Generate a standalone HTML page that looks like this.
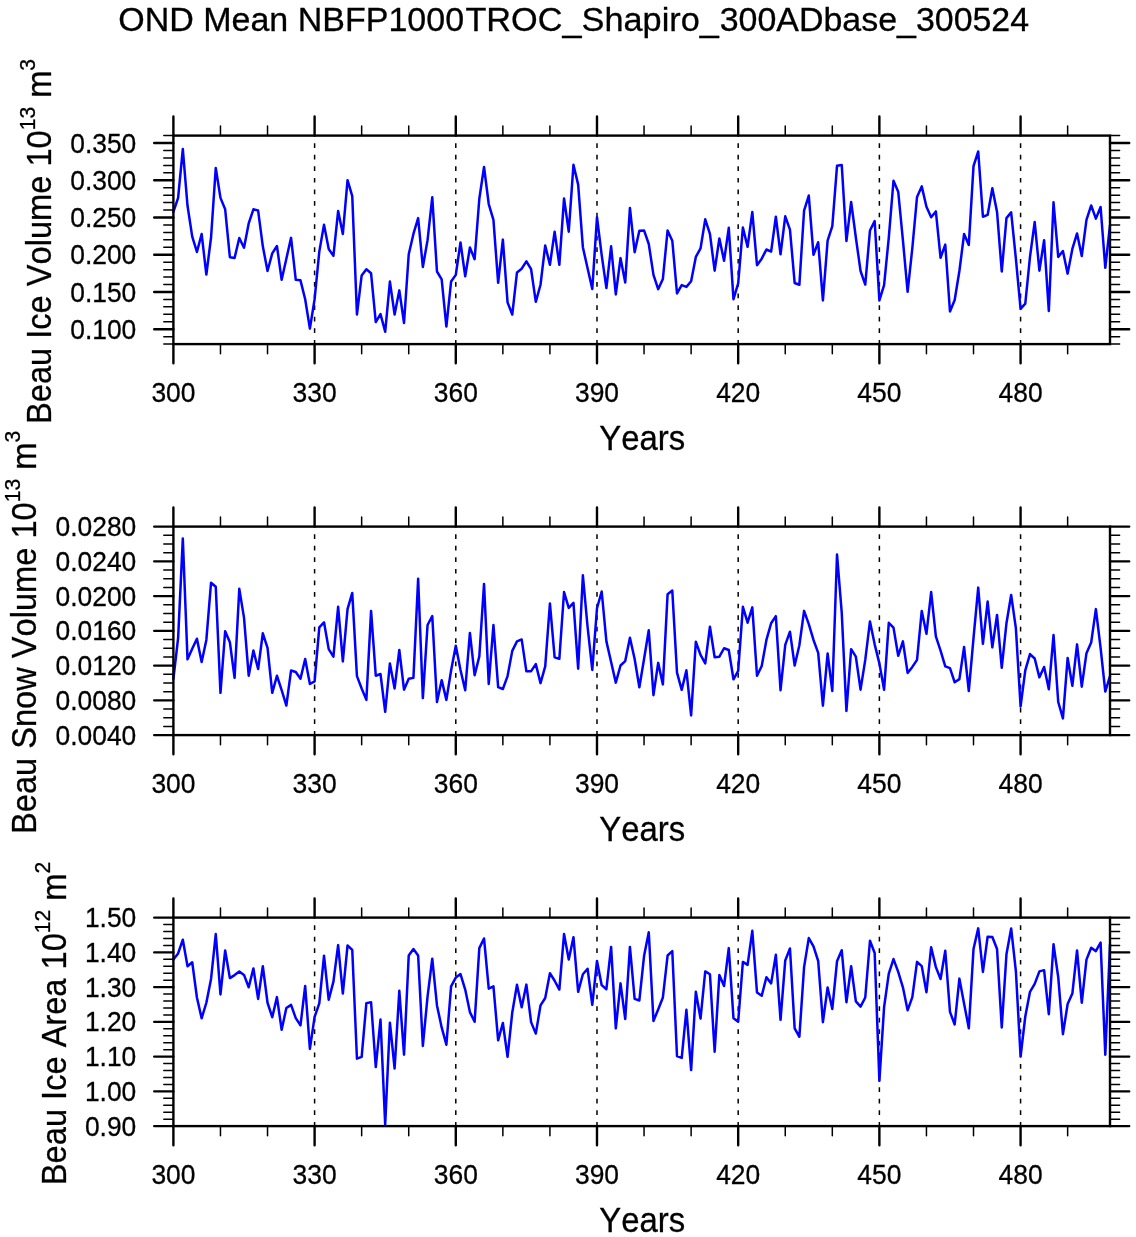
<!DOCTYPE html>
<html><head><meta charset="utf-8"><title>OND Mean NBFP1000TROC_Shapiro_300ADbase_300524</title>
<style>
html,body{margin:0;padding:0;background:#fff;}
body{width:1136px;height:1237px;overflow:hidden;}
svg{display:block;will-change:transform;}
text{font-family:"Liberation Sans", Arial, Helvetica, sans-serif;fill:#000;font-kerning:none;stroke:#000;stroke-width:0.3px;}
.tk{font-size:28.4px;}
.lb{font-size:34.8px;}
.tt{font-size:33.6px;}
.ax{stroke:#000;stroke-width:2.4;fill:none;stroke-linecap:round;}
.mn{stroke:#000;stroke-width:1.5;fill:none;stroke-linecap:round;}
.ds{stroke:#000;stroke-width:1.5;fill:none;stroke-dasharray:4.7 6.87;}
.dt{stroke:#0000ff;stroke-width:2.5;fill:none;stroke-linejoin:round;stroke-linecap:round;}
</style></head><body>
<svg width="1136" height="1237" viewBox="0 0 1136 1237">
<rect x="0" y="0" width="1136" height="1237" fill="#ffffff"/>
<text class="tt" y="30.5"><tspan x="118.2" textLength="345.87" lengthAdjust="spacingAndGlyphs">OND Mean NBFP1000</tspan><tspan x="465.4" textLength="253.41" lengthAdjust="spacingAndGlyphs">TROC_Shapiro_</tspan><tspan x="719.7" textLength="309.44" lengthAdjust="spacingAndGlyphs">300ADbase_300524</tspan></text>
<g>
<line class="ds" x1="314.60" y1="344.60" x2="314.60" y2="135.60"/>
<line class="ds" x1="455.79" y1="344.60" x2="455.79" y2="135.60"/>
<line class="ds" x1="596.99" y1="344.60" x2="596.99" y2="135.60"/>
<line class="ds" x1="738.18" y1="344.60" x2="738.18" y2="135.60"/>
<line class="ds" x1="879.38" y1="344.60" x2="879.38" y2="135.60"/>
<line class="ds" x1="1020.58" y1="344.60" x2="1020.58" y2="135.60"/>
<polyline class="dt" points="173.40,211.95 178.11,197.85 182.81,149.03 187.52,205.78 192.23,236.63 196.93,251.96 201.64,233.98 206.35,274.52 211.05,237.51 215.76,167.89 220.47,197.85 225.17,209.31 229.88,257.25 234.58,257.95 239.29,238.04 244.00,247.73 248.70,223.41 253.41,209.31 258.12,210.54 262.82,246.32 267.53,270.99 272.24,253.37 276.94,245.97 281.65,279.81 286.36,258.66 291.06,237.86 295.77,279.81 300.48,280.33 305.18,299.19 309.89,328.63 314.60,299.19 319.30,251.61 324.01,224.64 328.72,248.96 333.42,255.84 338.13,211.07 342.84,233.98 347.54,180.23 352.25,196.09 356.95,314.53 361.66,275.40 366.37,269.23 371.07,273.29 375.78,322.10 380.49,314.17 385.19,331.80 389.90,281.57 394.61,314.53 399.31,290.38 404.02,322.99 408.73,254.25 413.43,233.98 418.14,218.12 422.85,266.94 427.55,240.15 432.26,197.32 436.97,271.52 441.67,279.28 446.38,326.51 451.09,281.57 455.79,274.87 460.50,242.44 465.21,276.28 469.91,247.55 474.62,259.19 479.32,198.73 484.03,167.01 488.74,204.02 493.44,219.88 498.15,282.80 502.86,239.62 507.56,302.37 512.27,314.53 516.98,272.40 521.68,268.70 526.39,261.30 531.10,269.23 535.80,301.84 540.51,284.74 545.22,245.44 549.92,264.83 554.63,231.69 559.34,264.83 564.04,198.38 568.75,231.69 573.46,164.72 578.16,184.64 582.87,247.20 587.57,268.35 592.28,288.97 596.99,217.24 601.69,255.13 606.40,288.09 611.11,246.32 615.81,294.43 620.52,258.13 625.23,282.45 629.93,207.90 634.64,252.14 639.35,230.81 644.05,230.46 648.76,244.03 653.47,274.87 658.17,289.15 662.88,278.92 667.59,230.46 672.29,240.68 677.00,293.38 681.71,285.09 686.41,286.86 691.12,281.22 695.83,256.89 700.53,248.43 705.24,219.35 709.94,233.98 714.65,270.64 719.36,238.39 724.06,260.77 728.77,227.81 733.48,299.19 738.18,283.33 742.89,227.46 747.60,246.85 752.30,211.95 757.01,265.18 761.72,258.66 766.42,249.49 771.13,251.61 775.84,216.71 780.54,254.25 785.25,216.36 789.96,229.58 794.66,282.98 799.37,284.74 804.08,210.54 808.78,195.56 813.49,254.78 818.19,242.27 822.90,300.43 827.61,240.68 832.31,226.05 837.02,165.78 841.73,164.90 846.43,241.03 851.14,201.91 855.85,237.51 860.55,270.99 865.26,284.56 869.97,230.46 874.67,221.12 879.38,300.43 884.09,285.09 888.79,237.51 893.50,180.76 898.21,191.68 902.91,240.15 907.62,291.79 912.33,248.08 917.03,196.97 921.74,186.40 926.45,206.67 931.15,217.24 935.86,211.42 940.56,257.78 945.27,244.56 949.98,311.53 954.68,300.07 959.39,270.99 964.10,233.98 968.80,244.91 973.51,166.13 978.22,151.50 982.92,216.71 987.63,214.95 992.34,188.16 997.04,211.95 1001.75,271.52 1006.46,218.12 1011.16,212.31 1015.87,258.66 1020.58,308.89 1025.28,303.60 1029.99,256.89 1034.70,222.00 1039.40,270.64 1044.11,240.15 1048.82,311.00 1053.52,202.26 1058.23,256.89 1062.93,251.08 1067.64,273.64 1072.35,248.96 1077.05,233.45 1081.76,256.01 1086.47,219.88 1091.17,205.43 1095.88,218.65 1100.59,207.02 1105.29,267.82 1110.00,225.17"/>
<rect class="ax" x="173.40" y="135.60" width="936.60" height="208.50"/>
<path class="ax" d="M173.40 135.60V116.40M173.40 344.10V363.30"/>
<text class="tk" transform="translate(173.40,401.70) scale(0.93,1)" text-anchor="middle">300</text>
<path class="mn" d="M220.47 135.60V126.00M220.47 344.10V353.70"/>
<path class="mn" d="M267.53 135.60V126.00M267.53 344.10V353.70"/>
<path class="ax" d="M314.60 135.60V116.40M314.60 344.10V363.30"/>
<text class="tk" transform="translate(314.60,401.70) scale(0.93,1)" text-anchor="middle">330</text>
<path class="mn" d="M361.66 135.60V126.00M361.66 344.10V353.70"/>
<path class="mn" d="M408.73 135.60V126.00M408.73 344.10V353.70"/>
<path class="ax" d="M455.79 135.60V116.40M455.79 344.10V363.30"/>
<text class="tk" transform="translate(455.79,401.70) scale(0.93,1)" text-anchor="middle">360</text>
<path class="mn" d="M502.86 135.60V126.00M502.86 344.10V353.70"/>
<path class="mn" d="M549.92 135.60V126.00M549.92 344.10V353.70"/>
<path class="ax" d="M596.99 135.60V116.40M596.99 344.10V363.30"/>
<text class="tk" transform="translate(596.99,401.70) scale(0.93,1)" text-anchor="middle">390</text>
<path class="mn" d="M644.05 135.60V126.00M644.05 344.10V353.70"/>
<path class="mn" d="M691.12 135.60V126.00M691.12 344.10V353.70"/>
<path class="ax" d="M738.18 135.60V116.40M738.18 344.10V363.30"/>
<text class="tk" transform="translate(738.18,401.70) scale(0.93,1)" text-anchor="middle">420</text>
<path class="mn" d="M785.25 135.60V126.00M785.25 344.10V353.70"/>
<path class="mn" d="M832.31 135.60V126.00M832.31 344.10V353.70"/>
<path class="ax" d="M879.38 135.60V116.40M879.38 344.10V363.30"/>
<text class="tk" transform="translate(879.38,401.70) scale(0.93,1)" text-anchor="middle">450</text>
<path class="mn" d="M926.45 135.60V126.00M926.45 344.10V353.70"/>
<path class="mn" d="M973.51 135.60V126.00M973.51 344.10V353.70"/>
<path class="ax" d="M1020.58 135.60V116.40M1020.58 344.10V363.30"/>
<text class="tk" transform="translate(1020.58,401.70) scale(0.93,1)" text-anchor="middle">480</text>
<path class="mn" d="M1067.64 135.60V126.00M1067.64 344.10V353.70"/>
<path class="mn" d="M173.40 344.10H163.80M1110.00 344.10H1119.60"/>
<path class="mn" d="M173.40 336.65H163.80M1110.00 336.65H1119.60"/>
<path class="ax" d="M173.40 329.21H154.20M1110.00 329.21H1129.20"/>
<text class="tk" transform="translate(136.30,338.81) scale(0.93,1)" text-anchor="end">0.100</text>
<path class="mn" d="M173.40 321.76H163.80M1110.00 321.76H1119.60"/>
<path class="mn" d="M173.40 314.31H163.80M1110.00 314.31H1119.60"/>
<path class="mn" d="M173.40 306.87H163.80M1110.00 306.87H1119.60"/>
<path class="mn" d="M173.40 299.42H163.80M1110.00 299.42H1119.60"/>
<path class="ax" d="M173.40 291.98H154.20M1110.00 291.98H1129.20"/>
<text class="tk" transform="translate(136.30,301.58) scale(0.93,1)" text-anchor="end">0.150</text>
<path class="mn" d="M173.40 284.53H163.80M1110.00 284.53H1119.60"/>
<path class="mn" d="M173.40 277.08H163.80M1110.00 277.08H1119.60"/>
<path class="mn" d="M173.40 269.64H163.80M1110.00 269.64H1119.60"/>
<path class="mn" d="M173.40 262.19H163.80M1110.00 262.19H1119.60"/>
<path class="ax" d="M173.40 254.74H154.20M1110.00 254.74H1129.20"/>
<text class="tk" transform="translate(136.30,264.34) scale(0.93,1)" text-anchor="end">0.200</text>
<path class="mn" d="M173.40 247.30H163.80M1110.00 247.30H1119.60"/>
<path class="mn" d="M173.40 239.85H163.80M1110.00 239.85H1119.60"/>
<path class="mn" d="M173.40 232.40H163.80M1110.00 232.40H1119.60"/>
<path class="mn" d="M173.40 224.96H163.80M1110.00 224.96H1119.60"/>
<path class="ax" d="M173.40 217.51H154.20M1110.00 217.51H1129.20"/>
<text class="tk" transform="translate(136.30,227.11) scale(0.93,1)" text-anchor="end">0.250</text>
<path class="mn" d="M173.40 210.06H163.80M1110.00 210.06H1119.60"/>
<path class="mn" d="M173.40 202.62H163.80M1110.00 202.62H1119.60"/>
<path class="mn" d="M173.40 195.17H163.80M1110.00 195.17H1119.60"/>
<path class="mn" d="M173.40 187.73H163.80M1110.00 187.73H1119.60"/>
<path class="ax" d="M173.40 180.28H154.20M1110.00 180.28H1129.20"/>
<text class="tk" transform="translate(136.30,189.88) scale(0.93,1)" text-anchor="end">0.300</text>
<path class="mn" d="M173.40 172.83H163.80M1110.00 172.83H1119.60"/>
<path class="mn" d="M173.40 165.39H163.80M1110.00 165.39H1119.60"/>
<path class="mn" d="M173.40 157.94H163.80M1110.00 157.94H1119.60"/>
<path class="mn" d="M173.40 150.49H163.80M1110.00 150.49H1119.60"/>
<path class="ax" d="M173.40 143.05H154.20M1110.00 143.05H1129.20"/>
<text class="tk" transform="translate(136.30,152.65) scale(0.93,1)" text-anchor="end">0.350</text>
<path class="mn" d="M173.40 135.60H163.80M1110.00 135.60H1119.60"/>
<text class="lb" transform="translate(642.2,450.00) scale(0.945,1)" text-anchor="middle">Years</text>
<text class="lb" transform="translate(50.8,241.45) rotate(-90) scale(0.937,1)" text-anchor="middle">Beau Ice Volume 10<tspan font-size="22.5" dy="-15.6">13</tspan><tspan dy="15.6"> m</tspan><tspan font-size="22.5" dy="-15.6">3</tspan></text>
</g>
<g>
<line class="ds" x1="314.60" y1="735.60" x2="314.60" y2="526.60"/>
<line class="ds" x1="455.79" y1="735.60" x2="455.79" y2="526.60"/>
<line class="ds" x1="596.99" y1="735.60" x2="596.99" y2="526.60"/>
<line class="ds" x1="738.18" y1="735.60" x2="738.18" y2="526.60"/>
<line class="ds" x1="879.38" y1="735.60" x2="879.38" y2="526.60"/>
<line class="ds" x1="1020.58" y1="735.60" x2="1020.58" y2="526.60"/>
<polyline class="dt" points="173.40,678.74 178.11,638.20 182.81,538.62 187.52,659.35 192.23,648.78 196.93,638.73 201.64,661.99 206.35,639.96 211.05,582.68 215.76,586.74 220.47,692.84 225.17,631.15 229.88,642.25 234.58,677.86 239.29,588.85 244.00,617.58 248.70,675.74 253.41,650.54 258.12,669.04 262.82,633.27 267.53,647.89 272.24,692.84 276.94,675.74 281.65,690.19 286.36,705.53 291.06,670.45 295.77,672.04 300.48,678.74 305.18,659.00 309.89,684.02 314.60,681.38 319.30,627.27 324.01,622.34 328.72,649.13 333.42,656.71 338.13,606.83 342.84,661.47 347.54,609.12 352.25,592.91 356.95,676.09 361.66,688.43 366.37,699.89 371.07,610.88 375.78,675.74 380.49,673.98 385.19,711.87 389.90,663.40 394.61,688.43 399.31,650.01 404.02,689.66 408.73,678.74 413.43,677.86 418.14,578.81 422.85,698.12 427.55,624.98 432.26,616.17 436.97,702.00 441.67,680.15 446.38,699.89 451.09,670.45 455.79,645.78 460.50,669.92 465.21,690.19 469.91,632.91 474.62,675.21 479.32,656.35 484.03,583.92 488.74,684.02 493.44,624.98 498.15,687.20 502.86,688.96 507.56,676.09 512.27,650.89 516.98,641.37 521.68,639.43 526.39,671.33 531.10,671.16 535.80,664.11 540.51,683.14 545.22,666.40 549.92,603.48 554.63,657.24 559.34,658.82 564.04,592.03 568.75,607.89 573.46,602.95 578.16,668.69 582.87,575.28 587.57,626.75 592.28,669.92 596.99,608.24 601.69,591.50 606.40,641.37 611.11,661.99 615.81,682.61 620.52,665.52 625.23,661.11 629.93,637.67 634.64,659.00 639.35,687.20 644.05,659.00 648.76,630.27 653.47,695.13 658.17,662.88 662.88,684.38 667.59,594.14 672.29,590.62 677.00,672.57 681.71,689.84 686.41,670.28 691.12,715.40 695.83,641.73 700.53,654.94 705.24,663.40 709.94,626.75 714.65,657.24 719.36,656.71 724.06,648.25 728.77,650.01 733.48,679.27 738.18,670.81 742.89,606.83 747.60,622.69 752.30,607.36 757.01,675.74 761.72,666.05 766.42,639.96 771.13,623.22 775.84,616.17 780.54,690.19 785.25,644.90 789.96,631.68 794.66,665.52 799.37,645.25 804.08,610.88 808.78,624.10 813.49,639.96 818.19,652.83 822.90,705.70 827.61,653.53 832.31,691.07 837.02,554.49 841.73,612.65 846.43,710.99 851.14,649.13 855.85,656.71 860.55,689.66 865.26,659.88 869.97,621.46 874.67,644.37 879.38,663.40 884.09,689.84 888.79,622.87 893.50,627.63 898.21,655.83 902.91,641.37 907.62,672.92 912.33,666.93 917.03,659.88 921.74,610.88 926.45,633.80 931.15,592.03 935.86,636.44 940.56,650.54 945.27,666.40 949.98,668.16 954.68,682.26 959.39,679.09 964.10,647.01 968.80,691.07 973.51,638.20 978.22,587.62 982.92,643.84 987.63,601.54 992.34,647.37 997.04,614.94 1001.75,667.81 1006.46,623.22 1011.16,595.02 1015.87,628.16 1020.58,706.41 1025.28,670.45 1029.99,654.06 1034.70,658.47 1039.40,677.33 1044.11,666.93 1048.82,689.31 1053.52,635.03 1058.23,702.00 1062.93,718.39 1067.64,657.94 1072.35,685.79 1077.05,644.37 1081.76,686.67 1086.47,653.18 1091.17,642.61 1095.88,609.12 1100.59,647.89 1105.29,691.60 1110.00,676.09"/>
<rect class="ax" x="173.40" y="526.60" width="936.60" height="208.50"/>
<path class="ax" d="M173.40 526.60V507.40M173.40 735.10V754.30"/>
<text class="tk" transform="translate(173.40,792.70) scale(0.93,1)" text-anchor="middle">300</text>
<path class="mn" d="M220.47 526.60V517.00M220.47 735.10V744.70"/>
<path class="mn" d="M267.53 526.60V517.00M267.53 735.10V744.70"/>
<path class="ax" d="M314.60 526.60V507.40M314.60 735.10V754.30"/>
<text class="tk" transform="translate(314.60,792.70) scale(0.93,1)" text-anchor="middle">330</text>
<path class="mn" d="M361.66 526.60V517.00M361.66 735.10V744.70"/>
<path class="mn" d="M408.73 526.60V517.00M408.73 735.10V744.70"/>
<path class="ax" d="M455.79 526.60V507.40M455.79 735.10V754.30"/>
<text class="tk" transform="translate(455.79,792.70) scale(0.93,1)" text-anchor="middle">360</text>
<path class="mn" d="M502.86 526.60V517.00M502.86 735.10V744.70"/>
<path class="mn" d="M549.92 526.60V517.00M549.92 735.10V744.70"/>
<path class="ax" d="M596.99 526.60V507.40M596.99 735.10V754.30"/>
<text class="tk" transform="translate(596.99,792.70) scale(0.93,1)" text-anchor="middle">390</text>
<path class="mn" d="M644.05 526.60V517.00M644.05 735.10V744.70"/>
<path class="mn" d="M691.12 526.60V517.00M691.12 735.10V744.70"/>
<path class="ax" d="M738.18 526.60V507.40M738.18 735.10V754.30"/>
<text class="tk" transform="translate(738.18,792.70) scale(0.93,1)" text-anchor="middle">420</text>
<path class="mn" d="M785.25 526.60V517.00M785.25 735.10V744.70"/>
<path class="mn" d="M832.31 526.60V517.00M832.31 735.10V744.70"/>
<path class="ax" d="M879.38 526.60V507.40M879.38 735.10V754.30"/>
<text class="tk" transform="translate(879.38,792.70) scale(0.93,1)" text-anchor="middle">450</text>
<path class="mn" d="M926.45 526.60V517.00M926.45 735.10V744.70"/>
<path class="mn" d="M973.51 526.60V517.00M973.51 735.10V744.70"/>
<path class="ax" d="M1020.58 526.60V507.40M1020.58 735.10V754.30"/>
<text class="tk" transform="translate(1020.58,792.70) scale(0.93,1)" text-anchor="middle">480</text>
<path class="mn" d="M1067.64 526.60V517.00M1067.64 735.10V744.70"/>
<path class="ax" d="M173.40 735.10H154.20M1110.00 735.10H1129.20"/>
<text class="tk" transform="translate(136.30,744.70) scale(0.93,1)" text-anchor="end">0.0040</text>
<path class="mn" d="M173.40 726.41H163.80M1110.00 726.41H1119.60"/>
<path class="mn" d="M173.40 717.73H163.80M1110.00 717.73H1119.60"/>
<path class="mn" d="M173.40 709.04H163.80M1110.00 709.04H1119.60"/>
<path class="ax" d="M173.40 700.35H154.20M1110.00 700.35H1129.20"/>
<text class="tk" transform="translate(136.30,709.95) scale(0.93,1)" text-anchor="end">0.0080</text>
<path class="mn" d="M173.40 691.66H163.80M1110.00 691.66H1119.60"/>
<path class="mn" d="M173.40 682.98H163.80M1110.00 682.98H1119.60"/>
<path class="mn" d="M173.40 674.29H163.80M1110.00 674.29H1119.60"/>
<path class="ax" d="M173.40 665.60H154.20M1110.00 665.60H1129.20"/>
<text class="tk" transform="translate(136.30,675.20) scale(0.93,1)" text-anchor="end">0.0120</text>
<path class="mn" d="M173.40 656.91H163.80M1110.00 656.91H1119.60"/>
<path class="mn" d="M173.40 648.23H163.80M1110.00 648.23H1119.60"/>
<path class="mn" d="M173.40 639.54H163.80M1110.00 639.54H1119.60"/>
<path class="ax" d="M173.40 630.85H154.20M1110.00 630.85H1129.20"/>
<text class="tk" transform="translate(136.30,640.45) scale(0.93,1)" text-anchor="end">0.0160</text>
<path class="mn" d="M173.40 622.16H163.80M1110.00 622.16H1119.60"/>
<path class="mn" d="M173.40 613.48H163.80M1110.00 613.48H1119.60"/>
<path class="mn" d="M173.40 604.79H163.80M1110.00 604.79H1119.60"/>
<path class="ax" d="M173.40 596.10H154.20M1110.00 596.10H1129.20"/>
<text class="tk" transform="translate(136.30,605.70) scale(0.93,1)" text-anchor="end">0.0200</text>
<path class="mn" d="M173.40 587.41H163.80M1110.00 587.41H1119.60"/>
<path class="mn" d="M173.40 578.73H163.80M1110.00 578.73H1119.60"/>
<path class="mn" d="M173.40 570.04H163.80M1110.00 570.04H1119.60"/>
<path class="ax" d="M173.40 561.35H154.20M1110.00 561.35H1129.20"/>
<text class="tk" transform="translate(136.30,570.95) scale(0.93,1)" text-anchor="end">0.0240</text>
<path class="mn" d="M173.40 552.66H163.80M1110.00 552.66H1119.60"/>
<path class="mn" d="M173.40 543.98H163.80M1110.00 543.98H1119.60"/>
<path class="mn" d="M173.40 535.29H163.80M1110.00 535.29H1119.60"/>
<path class="ax" d="M173.40 526.60H154.20M1110.00 526.60H1129.20"/>
<text class="tk" transform="translate(136.30,536.20) scale(0.93,1)" text-anchor="end">0.0280</text>
<text class="lb" transform="translate(642.2,841.00) scale(0.945,1)" text-anchor="middle">Years</text>
<text class="lb" transform="translate(35.9,632.45) rotate(-90) scale(0.937,1)" text-anchor="middle">Beau Snow Volume 10<tspan font-size="22.5" dy="-15.6">13</tspan><tspan dy="15.6"> m</tspan><tspan font-size="22.5" dy="-15.6">3</tspan></text>
</g>
<g>
<line class="ds" x1="314.60" y1="1126.60" x2="314.60" y2="917.60"/>
<line class="ds" x1="455.79" y1="1126.60" x2="455.79" y2="917.60"/>
<line class="ds" x1="596.99" y1="1126.60" x2="596.99" y2="917.60"/>
<line class="ds" x1="738.18" y1="1126.60" x2="738.18" y2="917.60"/>
<line class="ds" x1="879.38" y1="1126.60" x2="879.38" y2="917.60"/>
<line class="ds" x1="1020.58" y1="1126.60" x2="1020.58" y2="917.60"/>
<polyline class="dt" points="173.40,959.59 178.11,953.42 182.81,939.67 187.52,966.28 192.23,962.23 196.93,997.48 201.64,1018.27 206.35,1002.76 211.05,978.97 215.76,934.03 220.47,994.48 225.17,950.42 229.88,978.09 234.58,975.09 239.29,971.57 244.00,974.92 248.70,987.26 253.41,968.40 258.12,998.89 262.82,966.28 267.53,1002.76 272.24,1017.22 276.94,997.13 281.65,1029.73 286.36,1008.05 291.06,1004.88 295.77,1018.10 300.48,1025.32 305.18,986.02 309.89,1048.94 314.60,1016.86 319.30,1003.29 324.01,955.71 328.72,999.77 333.42,981.62 338.13,945.13 342.84,993.60 347.54,945.49 352.25,949.89 356.95,1058.63 361.66,1056.87 366.37,1003.12 371.07,1002.24 375.78,1067.09 380.49,1019.51 385.19,1124.37 389.90,1022.68 394.61,1068.50 399.31,990.78 404.02,1054.76 408.73,955.53 413.43,949.01 418.14,955.53 422.85,1045.94 427.55,996.60 432.26,958.70 436.97,1005.41 441.67,1027.44 446.38,1044.71 451.09,986.37 455.79,977.56 460.50,974.04 465.21,989.55 469.91,1012.11 474.62,1021.80 479.32,948.13 484.03,938.44 488.74,988.67 493.44,986.37 498.15,1040.30 502.86,1023.03 507.56,1056.87 512.27,1012.46 516.98,984.79 521.68,1007.17 526.39,984.61 531.10,1022.15 535.80,1033.61 540.51,1005.41 545.22,998.01 549.92,973.16 554.63,980.73 559.34,989.55 564.04,934.03 568.75,959.59 573.46,937.20 578.16,991.84 582.87,974.21 587.57,968.75 592.28,1004.88 596.99,961.00 601.69,985.14 606.40,989.19 611.11,946.90 615.81,1028.32 620.52,983.38 625.23,1018.98 629.93,946.90 634.64,998.89 639.35,1000.47 644.05,956.06 648.76,932.27 653.47,1020.92 658.17,1009.46 662.88,997.48 667.59,955.53 672.29,951.13 677.00,1055.99 681.71,1057.93 686.41,1009.81 691.12,1070.09 695.83,991.84 700.53,1018.63 705.24,971.39 709.94,974.21 714.65,1051.76 719.36,974.92 724.06,986.02 728.77,948.13 733.48,1018.27 738.18,1021.62 742.89,961.88 747.60,964.87 752.30,930.86 757.01,992.54 761.72,995.72 766.42,977.21 771.13,983.38 775.84,954.83 780.54,1019.86 785.25,960.47 789.96,948.48 794.66,1028.32 799.37,1036.78 804.08,967.16 808.78,938.08 813.49,946.37 818.19,961.00 822.90,1022.15 827.61,987.43 832.31,1008.93 837.02,961.35 841.73,950.24 846.43,1002.24 851.14,966.28 855.85,1001.35 860.55,1006.64 865.26,997.48 869.97,940.73 874.67,953.06 879.38,1080.84 884.09,1007.17 888.79,973.68 893.50,959.06 898.21,971.92 902.91,987.26 907.62,1010.34 912.33,997.13 917.03,961.88 921.74,966.11 926.45,992.19 931.15,947.25 935.86,967.16 940.56,978.97 945.27,950.77 949.98,1011.93 954.68,1024.44 959.39,978.62 964.10,1003.65 968.80,1028.32 973.51,949.01 978.22,928.39 982.92,971.92 987.63,936.67 992.34,937.03 997.04,949.01 1001.75,1027.44 1006.46,954.30 1011.16,928.39 1015.87,971.04 1020.58,1056.52 1025.28,1016.51 1029.99,991.84 1034.70,983.91 1039.40,971.39 1044.11,970.16 1048.82,1014.22 1053.52,944.25 1058.23,977.21 1062.93,1034.14 1067.64,1004.00 1072.35,993.60 1077.05,950.42 1081.76,1002.76 1086.47,959.59 1091.17,947.78 1095.88,951.13 1100.59,942.49 1105.29,1054.76 1110.00,944.60"/>
<rect class="ax" x="173.40" y="917.60" width="936.60" height="208.50"/>
<path class="ax" d="M173.40 917.60V898.40M173.40 1126.10V1145.30"/>
<text class="tk" transform="translate(173.40,1183.70) scale(0.93,1)" text-anchor="middle">300</text>
<path class="mn" d="M220.47 917.60V908.00M220.47 1126.10V1135.70"/>
<path class="mn" d="M267.53 917.60V908.00M267.53 1126.10V1135.70"/>
<path class="ax" d="M314.60 917.60V898.40M314.60 1126.10V1145.30"/>
<text class="tk" transform="translate(314.60,1183.70) scale(0.93,1)" text-anchor="middle">330</text>
<path class="mn" d="M361.66 917.60V908.00M361.66 1126.10V1135.70"/>
<path class="mn" d="M408.73 917.60V908.00M408.73 1126.10V1135.70"/>
<path class="ax" d="M455.79 917.60V898.40M455.79 1126.10V1145.30"/>
<text class="tk" transform="translate(455.79,1183.70) scale(0.93,1)" text-anchor="middle">360</text>
<path class="mn" d="M502.86 917.60V908.00M502.86 1126.10V1135.70"/>
<path class="mn" d="M549.92 917.60V908.00M549.92 1126.10V1135.70"/>
<path class="ax" d="M596.99 917.60V898.40M596.99 1126.10V1145.30"/>
<text class="tk" transform="translate(596.99,1183.70) scale(0.93,1)" text-anchor="middle">390</text>
<path class="mn" d="M644.05 917.60V908.00M644.05 1126.10V1135.70"/>
<path class="mn" d="M691.12 917.60V908.00M691.12 1126.10V1135.70"/>
<path class="ax" d="M738.18 917.60V898.40M738.18 1126.10V1145.30"/>
<text class="tk" transform="translate(738.18,1183.70) scale(0.93,1)" text-anchor="middle">420</text>
<path class="mn" d="M785.25 917.60V908.00M785.25 1126.10V1135.70"/>
<path class="mn" d="M832.31 917.60V908.00M832.31 1126.10V1135.70"/>
<path class="ax" d="M879.38 917.60V898.40M879.38 1126.10V1145.30"/>
<text class="tk" transform="translate(879.38,1183.70) scale(0.93,1)" text-anchor="middle">450</text>
<path class="mn" d="M926.45 917.60V908.00M926.45 1126.10V1135.70"/>
<path class="mn" d="M973.51 917.60V908.00M973.51 1126.10V1135.70"/>
<path class="ax" d="M1020.58 917.60V898.40M1020.58 1126.10V1145.30"/>
<text class="tk" transform="translate(1020.58,1183.70) scale(0.93,1)" text-anchor="middle">480</text>
<path class="mn" d="M1067.64 917.60V908.00M1067.64 1126.10V1135.70"/>
<path class="ax" d="M173.40 1126.10H154.20M1110.00 1126.10H1129.20"/>
<text class="tk" transform="translate(136.30,1135.70) scale(0.93,1)" text-anchor="end">0.90</text>
<path class="mn" d="M173.40 1119.15H163.80M1110.00 1119.15H1119.60"/>
<path class="mn" d="M173.40 1112.20H163.80M1110.00 1112.20H1119.60"/>
<path class="mn" d="M173.40 1105.25H163.80M1110.00 1105.25H1119.60"/>
<path class="mn" d="M173.40 1098.30H163.80M1110.00 1098.30H1119.60"/>
<path class="ax" d="M173.40 1091.35H154.20M1110.00 1091.35H1129.20"/>
<text class="tk" transform="translate(136.30,1100.95) scale(0.93,1)" text-anchor="end">1.00</text>
<path class="mn" d="M173.40 1084.40H163.80M1110.00 1084.40H1119.60"/>
<path class="mn" d="M173.40 1077.45H163.80M1110.00 1077.45H1119.60"/>
<path class="mn" d="M173.40 1070.50H163.80M1110.00 1070.50H1119.60"/>
<path class="mn" d="M173.40 1063.55H163.80M1110.00 1063.55H1119.60"/>
<path class="ax" d="M173.40 1056.60H154.20M1110.00 1056.60H1129.20"/>
<text class="tk" transform="translate(136.30,1066.20) scale(0.93,1)" text-anchor="end">1.10</text>
<path class="mn" d="M173.40 1049.65H163.80M1110.00 1049.65H1119.60"/>
<path class="mn" d="M173.40 1042.70H163.80M1110.00 1042.70H1119.60"/>
<path class="mn" d="M173.40 1035.75H163.80M1110.00 1035.75H1119.60"/>
<path class="mn" d="M173.40 1028.80H163.80M1110.00 1028.80H1119.60"/>
<path class="ax" d="M173.40 1021.85H154.20M1110.00 1021.85H1129.20"/>
<text class="tk" transform="translate(136.30,1031.45) scale(0.93,1)" text-anchor="end">1.20</text>
<path class="mn" d="M173.40 1014.90H163.80M1110.00 1014.90H1119.60"/>
<path class="mn" d="M173.40 1007.95H163.80M1110.00 1007.95H1119.60"/>
<path class="mn" d="M173.40 1001.00H163.80M1110.00 1001.00H1119.60"/>
<path class="mn" d="M173.40 994.05H163.80M1110.00 994.05H1119.60"/>
<path class="ax" d="M173.40 987.10H154.20M1110.00 987.10H1129.20"/>
<text class="tk" transform="translate(136.30,996.70) scale(0.93,1)" text-anchor="end">1.30</text>
<path class="mn" d="M173.40 980.15H163.80M1110.00 980.15H1119.60"/>
<path class="mn" d="M173.40 973.20H163.80M1110.00 973.20H1119.60"/>
<path class="mn" d="M173.40 966.25H163.80M1110.00 966.25H1119.60"/>
<path class="mn" d="M173.40 959.30H163.80M1110.00 959.30H1119.60"/>
<path class="ax" d="M173.40 952.35H154.20M1110.00 952.35H1129.20"/>
<text class="tk" transform="translate(136.30,961.95) scale(0.93,1)" text-anchor="end">1.40</text>
<path class="mn" d="M173.40 945.40H163.80M1110.00 945.40H1119.60"/>
<path class="mn" d="M173.40 938.45H163.80M1110.00 938.45H1119.60"/>
<path class="mn" d="M173.40 931.50H163.80M1110.00 931.50H1119.60"/>
<path class="mn" d="M173.40 924.55H163.80M1110.00 924.55H1119.60"/>
<path class="ax" d="M173.40 917.60H154.20M1110.00 917.60H1129.20"/>
<text class="tk" transform="translate(136.30,927.20) scale(0.93,1)" text-anchor="end">1.50</text>
<text class="lb" transform="translate(642.2,1232.00) scale(0.945,1)" text-anchor="middle">Years</text>
<text class="lb" transform="translate(65.8,1023.45) rotate(-90) scale(0.937,1)" text-anchor="middle">Beau Ice Area 10<tspan font-size="22.5" dy="-15.6">12</tspan><tspan dy="15.6"> m</tspan><tspan font-size="22.5" dy="-15.6">2</tspan></text>
</g>
</svg>
</body></html>
